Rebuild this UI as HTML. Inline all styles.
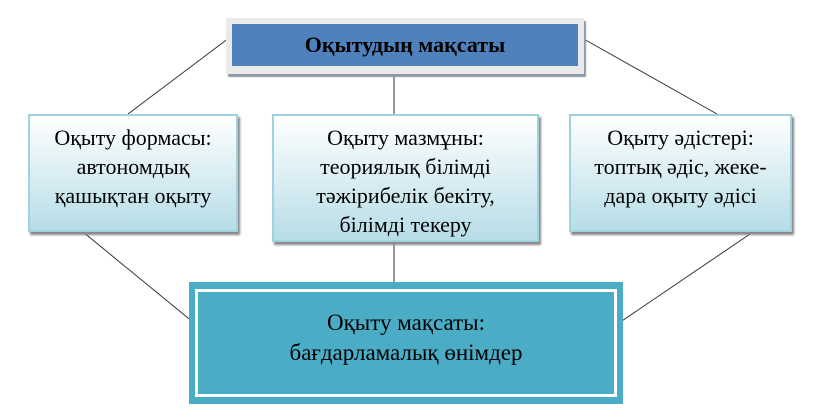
<!DOCTYPE html>
<html><head><meta charset="utf-8"><style>
body{margin:0;width:819px;height:419px;background:#fff;position:relative;overflow:hidden;}
.b{position:absolute;box-sizing:border-box;text-align:center;color:#000;font-family:"Times New Roman",Times,"Liberation Serif","DejaVu Serif",serif;}
.g{border:2px solid #9fd3e2;background:linear-gradient(#fff,#b7dde7);box-shadow:2px 3px 2px #888;font-size:22px;line-height:29px;padding-top:7px;}
</style></head><body>
<svg width="819" height="419" style="position:absolute;left:0;top:0">
<g stroke="#333" stroke-width="1">
<line x1="229" y1="38" x2="128" y2="114"/>
<line x1="582" y1="38" x2="717" y2="114"/>
<line x1="394" y1="68" x2="394" y2="114"/>
<line x1="394" y1="242" x2="394" y2="292"/>
<line x1="83" y1="232" x2="199" y2="327"/>
<line x1="753" y1="232" x2="613" y2="327"/>
</g></svg>
<div class="b" style="left:226px;top:18px;width:358px;height:56px;background:#eaeaea;box-shadow:2px 3px 1px #8a98a8;"></div>
<div class="b" style="left:232px;top:24px;width:346px;height:42px;background:#4f81bd;font-weight:bold;font-size:22px;line-height:42px;">Оқытудың мақсаты</div>
<div class="b g" style="left:28px;top:114px;width:210px;height:118px;">Оқыту формасы:<br>автономдық<br>қашықтан оқыту</div>
<div class="b g" style="left:272px;top:114px;width:267px;height:128px;">Оқыту мазмұны:<br>теориялық білімді<br>тәжірибелік бекіту,<br>білімді текеру</div>
<div class="b g" style="left:569px;top:114px;width:223px;height:118px;">Оқыту әдістері:<br>топтық әдіс, жеке-<br>дара оқыту әдісі</div>
<div class="b" style="left:189px;top:282px;width:434px;height:122px;background:#4bacc6;"></div>
<div class="b" style="left:195px;top:289px;width:422px;height:108px;border:3px solid #fff;background:#4bacc6;font-size:23px;line-height:30px;padding-top:16px;">Оқыту мақсаты:<br>бағдарламалық өнімдер</div>
</body></html>
